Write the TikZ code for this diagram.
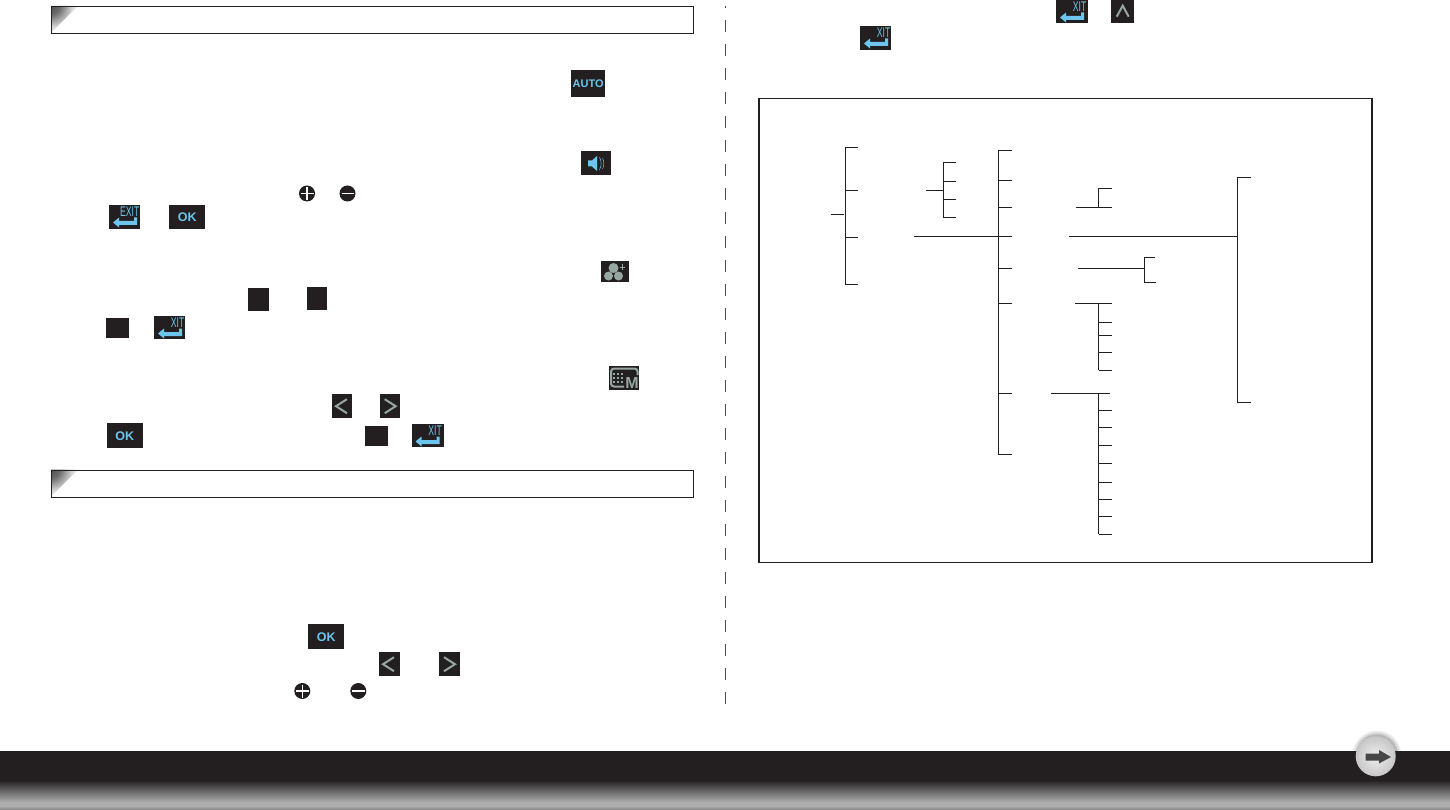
\documentclass[tikz,border=0pt]{standalone}
\usepackage{fontspec}
\usepackage{xcolor}
\setsansfont{Liberation Sans}
\usetikzlibrary{positioning, shadings}
\definecolor{inkdark}{HTML}{231F20}
\definecolor{keyblue}{HTML}{6CC5EE}
\definecolor{keygrey}{HTML}{96A6A1}
\pgfdeclareradialshading{foldshade}{\pgfpoint{-35.36bp}{35.36bp}}{color(0bp)=(black!78); color(20bp)=(black!58); color(36bp)=(black!16); color(50bp)=(white); color(100bp)=(white)}
\tikzstyle{treeline} = [draw=inkdark, line width=1.2pt]
\tikzstyle{keybox} = [rectangle, fill=inkdark, text=keyblue, inner sep=0pt, anchor=north west,
    font=\sffamily\bfseries\fontsize{11}{11}\selectfont]
\tikzstyle{okbox} = [keybox, font=\sffamily\bfseries\fontsize{12.5}{12.5}\selectfont]
\tikzstyle{bannerbox} = [rectangle, draw=inkdark, line width=1.1pt, inner sep=0pt, anchor=north west]
\tikzstyle{roundkey} = [circle, fill=inkdark, inner sep=0pt, minimum size=16pt]
\tikzstyle{guide} = [draw=inkdark!80, line width=1pt]
\newcommand{\exitglyph}[2]{
	\begin{scope}[shift={(#1.north west)}]
		\node [anchor=north east, inner sep=0pt, text=keyblue,
			font=\sffamily\fontsize{14}{14}\selectfont] (#1_txt) at (30.5,2) {\scalebox{.62}[1]{#2}};
		\fill [keyblue] (4,17.5) -- (10,12.5) -- (10,16) -- (25,16) -- (25,12.5) -- (28,12.5)
			-- (28,20) -- (10,20) -- (10,22.5) -- cycle;
	\end{scope}}
\newcommand{\banner}[2]{
	\shade [shading=foldshade] (51,#2) -- (78,#2) -- (51,#2+27) -- cycle;
	\node [bannerbox, minimum width=641.5pt, minimum height=27pt] (#1) at (51,#2) {};}
\newcommand{\chevkey}[2]{
	\begin{scope}[shift={(#1.center)}]
		\draw [keygrey, line width=2pt] (#2*5,-7) -- (#2*-6,0) -- (#2*5,7);
	\end{scope}}

\begin{document}
\begin{tikzpicture}[x=1pt, y=-1pt]
	\useasboundingbox (0,0) rectangle (1450,810);
	% section banners
	\banner{Banner_top}{6}
	\banner{Banner_mid}{469.5}
	% left column keys
	\node [keybox, minimum width=34pt, minimum height=27pt] (Key_auto) at (571,70) {AUTO};
	\node [keybox, minimum width=30pt, minimum height=24pt] (Key_sound) at (581,151) {};
	\fill [keyblue] (588,160.5) -- (592,160.5) -- (597,156) -- (597,171) -- (592,166.5) -- (588,166.5) -- cycle;
	\draw [keyblue, line width=.5pt] (599.5,157) to [bend left=25] (599.5,170);
	\draw [keyblue, line width=.5pt] (602.5,158) to [bend left=25] (602.5,169);
	\node [roundkey] (Key_plus_a) at (307,193.5) {};
	\node [roundkey] (Key_minus_a) at (347.5,193.5) {};
	\draw [white, line width=1.1pt] (300.5,193.5) -- (313.5,193.5) (307,187) -- (307,200);
	\draw [white, line width=1.1pt] (341.5,193.5) -- (353.5,193.5);
	\node [keybox, minimum width=31pt, minimum height=24pt] (Key_exit_a) at (109,205) {};
	\exitglyph{Key_exit_a}{EXIT}
	\node [okbox, minimum width=36pt, minimum height=24pt] (Key_ok_a) at (169,205) {OK};
	\node [keybox, minimum width=28.5pt, minimum height=21pt] (Key_tone) at (600.5,261) {};
	\fill [keygrey] (613.5,268) circle (5pt) (608.5,276) circle (4.5pt) (618.5,276) circle (4.5pt);
	\draw [keygrey, line width=1pt] (619.5,267.3) -- (625,267.3) (622.2,264.5) -- (622.2,270);
	\node [keybox, minimum width=20.5pt, minimum height=23pt] (Key_blank_a) at (248,288) {};
	\node [keybox, minimum width=20pt, minimum height=23pt] (Key_blank_b) at (306.5,287) {};
	\node [keybox, minimum width=23pt, minimum height=20pt] (Key_blank_c) at (105.5,318) {};
	\node [keybox, minimum width=31pt, minimum height=23pt] (Key_exit_b) at (154,316) {};
	\exitglyph{Key_exit_b}{XIT}
	\node [keybox, minimum width=30.5pt, minimum height=24pt] (Key_mode) at (608.5,366) {};
	\draw [keygrey, line width=2pt, rounded corners=3pt] (637.5,375) -- (637.5,368.5) -- (611,368.5) -- (611,386.5) -- (624,386.5);
	\foreach \gx in {614,618,622}
		\foreach \gy in {374,378,382}
			\fill [keygrey] (\gx-1.3,\gy-1.3) rectangle (\gx+1.3,\gy+1.3);
	\node [anchor=south east, inner sep=0pt, text=keygrey,
		font=\sffamily\bfseries\fontsize{16}{16}\selectfont] (Key_mode_M) at (639,389) {M};
	\node [keybox, minimum width=20.5pt, minimum height=24pt] (Key_left_a) at (331.5,394) {};
	\chevkey{Key_left_a}{1}
	\node [keybox, minimum width=20pt, minimum height=24pt] (Key_right_a) at (379.5,394) {};
	\chevkey{Key_right_a}{-1}
	\node [okbox, minimum width=36pt, minimum height=25pt] (Key_ok_b) at (106.5,423) {OK};
	\node [keybox, minimum width=23pt, minimum height=20pt] (Key_blank_d) at (364.5,426) {};
	\node [keybox, minimum width=32pt, minimum height=23pt] (Key_exit_c) at (411.5,424) {};
	\exitglyph{Key_exit_c}{XIT}
	\node [okbox, minimum width=36pt, minimum height=25pt] (Key_ok_c) at (308,624) {OK};
	\node [keybox, minimum width=21pt, minimum height=24pt] (Key_left_b) at (378.3,652) {};
	\chevkey{Key_left_b}{1}
	\node [keybox, minimum width=21pt, minimum height=24pt] (Key_right_b) at (438.3,652) {};
	\chevkey{Key_right_b}{-1}
	\node [roundkey] (Key_plus_b) at (302.3,691) {};
	\node [roundkey] (Key_minus_b) at (358.3,691) {};
	\draw [white, line width=1.1pt] (296,691) -- (309,691) (302.3,684.5) -- (302.3,697.5);
	\draw [white, line width=1.1pt] (352,691) -- (365,691);
	% column rule
	\coordinate (Rule_top) at (725.3,6);
	\coordinate (Rule_end) at (725.3,704);
	\draw [guide, dash pattern=on 12pt off 12pt, dash phase=10pt] (Rule_top) -- (Rule_end);
	% right column keys
	\node [keybox, minimum width=32pt, minimum height=23pt] (Key_exit_d) at (1056,0) {};
	\exitglyph{Key_exit_d}{XIT}
	\node [keybox, minimum width=23pt, minimum height=23pt] (Key_up) at (1111,0) {};
	\draw [keygrey, line width=2pt] (Key_up.center)+(-6,5) -- +(0,-6) -- +(6,5);
	\node [keybox, minimum width=31pt, minimum height=24pt] (Key_exit_e) at (860,26) {};
	\exitglyph{Key_exit_e}{XIT}
	% menu tree
	\node [bannerbox, line width=1.2pt, minimum width=613pt, minimum height=463.5pt] (Menu_frame) at (758.3,98.3) {};
	% bracket 1
	\coordinate (A_trunk) at (845.3,214.3);
	\coordinate (A_stem) at (831,214.3);
	\draw [treeline] (A_stem) -- (844,214.3);
	\foreach \i/\y in {1/147.3, 2/190.3, 3/237.3, 4/284.3} {
		\coordinate (A\i) at (858,\y);
		\draw [treeline] (A\i) -- (A\i -| A_trunk);
	}
	\draw [treeline] (A1 -| A_trunk) -- (A4 -| A_trunk);
	% bracket 2
	\coordinate (B_stem) at (926,190.3);
	\coordinate (B_trunk) at (943.3,190.3);
	\draw [treeline] (B_stem) -- (B_trunk);
	\foreach \i/\y in {1/162.3, 2/181.3, 3/199.3, 4/217.3} {
		\coordinate (B\i) at (956,\y);
		\draw [treeline] (B\i) -- (B\i -| B_trunk);
	}
	\draw [treeline] (B1 -| B_trunk) -- (B4 -| B_trunk);
	% main bracket
	\coordinate (C_stem) at (914,236.3);
	\coordinate (C_trunk) at (998.3,236.3);
	\draw [treeline] (C_stem) -- (C_trunk);
	\foreach \i/\y in {1/150.3, 2/180.3, 3/207.3, 4/236.3, 5/268.3, 6/303.3, 7/393.3, 8/454.3} {
		\coordinate (C\i) at (1011.7,\y);
		\draw [treeline] (C\i) -- (C\i -| C_trunk);
	}
	\draw [treeline] (C1 -| C_trunk) -- (C8 -| C_trunk);
	% upper sub menu
	\coordinate (D_stem) at (1076,207.3);
	\coordinate (D_trunk) at (1098.3,207.3);
	\coordinate (D1) at (1111.7,188.3);
	\coordinate (D2) at (1111.7,207.3);
	\draw [treeline] (D_stem) -- (D2);
	\draw [treeline] (D1) -- (D1 -| D_trunk) -- (D_trunk);
	% long branch
	\coordinate (E_stem) at (1069,236.3);
	\coordinate (E_trunk) at (1237.3,236.3);
	\coordinate (E1) at (1251,177.3);
	\coordinate (E2) at (1251,402.3);
	\draw [treeline] (E_stem) -- (E_trunk);
	\draw [treeline] (E1) -- (E1 -| E_trunk) -- (E2 -| E_trunk) -- (E2);
	% two way branch
	\coordinate (F_stem) at (1078,268.3);
	\coordinate (F_trunk) at (1144.3,268.3);
	\coordinate (F1) at (1155,257.3);
	\coordinate (F2) at (1156,282.3);
	\draw [treeline] (F_stem) -- (F_trunk);
	\draw [treeline] (F1) -- (F1 -| F_trunk) -- (F2 -| F_trunk) -- (F2);
	% five way branch
	\coordinate (G_stem) at (1075,303.3);
	\coordinate (G_trunk) at (1098.7,303.3);
	\draw [treeline] (G_stem) -- (G_trunk);
	\foreach \i/\y in {1/303.3, 2/322.3, 3/335.3, 4/352.3, 5/370.3} {
		\coordinate (G\i) at (1112,\y);
		\draw [treeline] (G\i) -- (G\i -| G_trunk);
	}
	\draw [treeline] (G1 -| G_trunk) -- (G5 -| G_trunk);
	% nine way branch
	\coordinate (H_stem) at (1051,393.3);
	\coordinate (H_trunk) at (1098.7,393.3);
	\coordinate (H_tip) at (1110,393.3);
	\draw [treeline] (H_stem) -- (H_tip);
	\foreach \i/\y in {1/410.3, 2/427.3, 3/445.3, 4/463.3, 5/482.3, 6/499.3, 7/516.3, 8/534.3} {
		\coordinate (H\i) at (1112,\y);
		\draw [treeline] (H\i) -- (H\i -| H_trunk);
	}
	\draw [treeline] (H_trunk) -- (H8 -| H_trunk);
	% footer
	\foreach \r/\g in {24.5/5, 23.5/9, 22.5/14, 21.5/20, 20.5/28}
		\fill [black!\g] (1377,755) circle (\r pt);
	\fill [inkdark] (0,751) rectangle (1450,780);
	\shade [top color=inkdark, bottom color=black!32] (0,780) rectangle (1450,802);
	\fill [black!32] (0,802) rectangle (1450,806);
	\shade [top color=black!32, bottom color=black!50] (0,806) rectangle (1450,810);
	\node [circle, inner sep=0pt, minimum size=40pt, inner color=black!6, outer color=black!22] (Next_ball) at (1375.7,756.3) {};
	\fill [black!72] (1365.7,753.5) -- (1379,753.5) -- (1379,750) -- (1391,757) -- (1379,763.5) -- (1379,760.5) -- (1365.7,760.5) -- cycle;
\end{tikzpicture}
\end{document}
